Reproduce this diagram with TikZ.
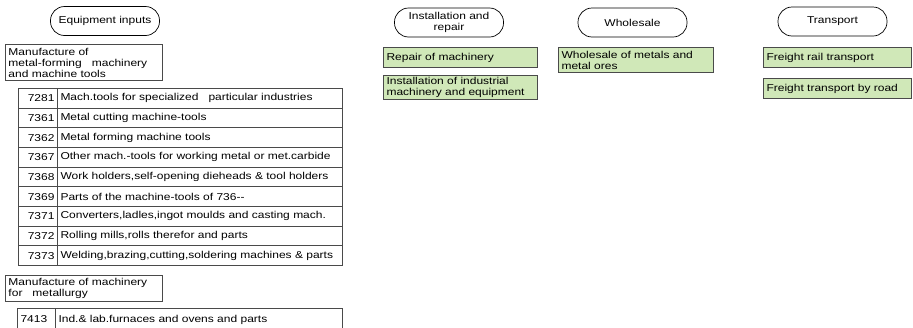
\documentclass[tikz,border=0pt]{standalone}
\usepackage{fontspec}
\setmainfont{Liberation Sans}[FakeStretch=1.2]
\usepackage{tikz}
\definecolor{hopxanh}{HTML}{D0E8B8}
\definecolor{vienxam}{HTML}{4A4A4A}

\begin{document}
\begin{tikzpicture}[x=1pt,y=-1pt,font=\fontsize{10}{11}\selectfont,
	nhom/.style={draw,line width=0.7pt,rounded corners=14pt,minimum width=109pt,minimum height=29pt,align=center,inner sep=1pt},
	hop/.style={draw=vienxam,line width=1pt,anchor=north west,align=left,inner xsep=3pt,inner ysep=1pt},
	xanh/.style={hop,fill=hopxanh},
	ma/.style={hop,minimum height=19.67pt,text width=33pt,align=right},
	mota/.style={hop,minimum height=19.67pt,text width=279pt}]
	\useasboundingbox (0,0) rectangle (913,327);
	\node[nhom] (equip) at (105,21) {Equipment inputs};
	\node[nhom] (install) at (449,22.5) {Installation and\\repair};
	\node[nhom] (whole) at (632.5,22.5) {Wholesale};
	\node[nhom] (trans) at (832.5,21.5) {Transport};
	\node[hop,text width=151pt,minimum height=36pt] (mfgone) at (5,44) {Manufacture of\\metal-forming\ \ \ machinery\\and machine tools};
	\node[ma] (c7281) at (18,88) {7281};
	\node[mota] (d7281) at (57,88) {Mach.tools for specialized\ \ \ particular industries};
	\node[ma] (c7361) at (18,107.67) {7361};
	\node[mota] (d7361) at (57,107.67) {Metal cutting machine-tools};
	\node[ma] (c7362) at (18,127.33) {7362};
	\node[mota] (d7362) at (57,127.33) {Metal forming machine tools};
	\node[ma] (c7367) at (18,147) {7367};
	\node[mota] (d7367) at (57,147) {Other mach.-tools for working metal or met.carbide};
	\node[ma] (c7368) at (18,166.67) {7368};
	\node[mota] (d7368) at (57,166.67) {Work holders,self-opening dieheads \& tool holders};
	\node[ma] (c7369) at (18,186.33) {7369};
	\node[mota] (d7369) at (57,186.33) {Parts of the machine-tools of 736-{}-};
	\node[ma] (c7371) at (18,206) {7371};
	\node[mota] (d7371) at (57,206) {Converters,ladles,ingot moulds and casting mach.};
	\node[ma] (c7372) at (18,225.67) {7372};
	\node[mota] (d7372) at (57,225.67) {Rolling mills,rolls therefor and parts};
	\node[ma] (c7373) at (18,245.33) {7373};
	\node[mota] (d7373) at (57,245.33) {Welding,brazing,cutting,soldering machines \& parts};
	\node[hop,text width=151pt,minimum height=26pt] (mfgtwo) at (5,275) {Manufacture of machinery\\for\ \ \ metallurgy};
	\node[hop,text width=32pt,minimum height=22pt] (c7413) at (17,308) {7413};
	\node[hop,text width=281pt,minimum height=22pt] (d7413) at (55,308) {Ind.\& lab.furnaces and ovens and parts};
	\node[xanh,text width=148pt,minimum height=20pt] (repair) at (383,47) {Repair of machinery};
	\node[xanh,text width=148pt,minimum height=24pt] (instind) at (383,75) {Installation of industrial\\machinery and equipment};
	\node[xanh,text width=149pt,minimum height=25pt] (metals) at (558,47) {Wholesale of metals and\\metal ores};
	\node[xanh,text width=142pt,minimum height=20pt] (rail) at (763,47) {Freight rail transport};
	\node[xanh,text width=142pt,minimum height=20pt] (road) at (763,78) {Freight transport by road};
\end{tikzpicture}
\end{document}
